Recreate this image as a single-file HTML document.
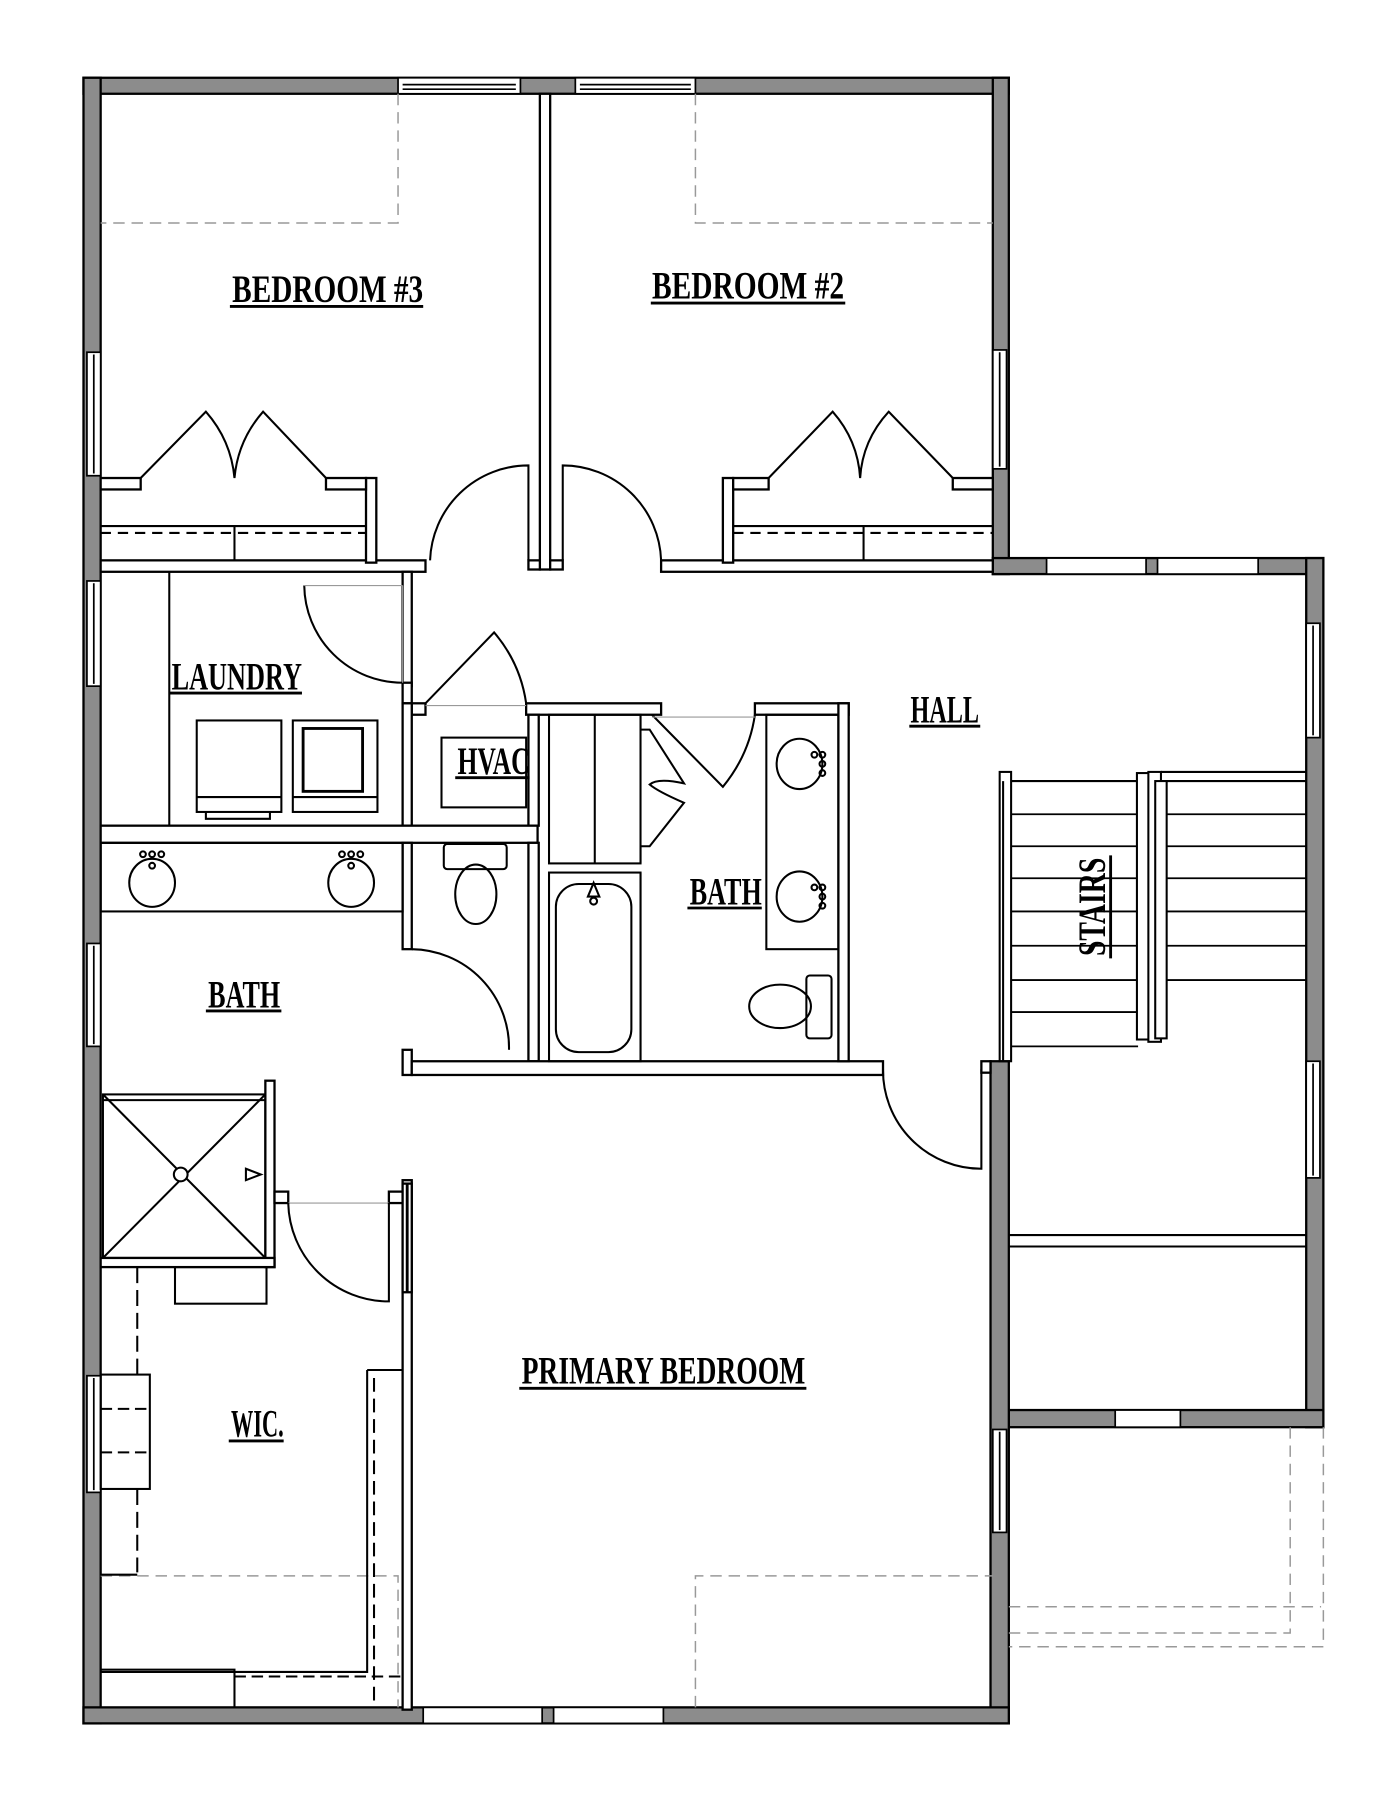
<!DOCTYPE html>
<html><head><meta charset="utf-8"><style>
html,body{margin:0;padding:0;background:#fff;}
svg{display:block;}
.lbl{font-family:"Liberation Serif",serif;font-weight:bold;font-size:34px;fill:#000;}
</style></head><body>
<svg width="1400" height="1800" viewBox="0 0 1224 1574" preserveAspectRatio="none" xmlns="http://www.w3.org/2000/svg">
<rect width="1224" height="1574" fill="#fff"/>
<g stroke="#000" stroke-width="2" fill="#8c8c8c">
<rect x="73" y="68" width="809" height="14"/>
<rect x="73" y="68" width="15" height="1439"/>
<rect x="868" y="68" width="14" height="434"/>
<rect x="868" y="488" width="289" height="14"/>
<rect x="1142" y="488" width="15" height="760"/>
<rect x="882" y="1233" width="275" height="15"/>
<rect x="866" y="928" width="16" height="579"/>
<rect x="73" y="1493" width="809" height="14"/>
</g>
<g stroke="#000" stroke-width="1.5" fill="#fff">
<rect x="348" y="68" width="107" height="14"/><line x1="352" y1="74" x2="451" y2="74"/><line x1="352" y1="78" x2="451" y2="78"/>
<rect x="503" y="68" width="105" height="14"/><line x1="507" y1="74" x2="604" y2="74"/><line x1="507" y1="78" x2="604" y2="78"/>
<rect x="915" y="488" width="87" height="14"/><rect x="1012" y="488" width="88" height="14"/>
<rect x="975" y="1233" width="57" height="15"/>
<rect x="370" y="1493" width="104" height="14"/><rect x="484" y="1493" width="96" height="14"/>
<rect x="76" y="308" width="12" height="108"/><line x1="82" y1="310" x2="82" y2="414"/>
<rect x="76" y="508" width="12" height="92"/><line x1="82" y1="510" x2="82" y2="598"/>
<rect x="76" y="825" width="12" height="90"/><line x1="82" y1="827" x2="82" y2="913"/>
<rect x="76" y="1203" width="12" height="102"/><line x1="82" y1="1205" x2="82" y2="1303"/>
<rect x="868" y="306" width="12" height="104"/><line x1="874" y1="308" x2="874" y2="408"/>
<rect x="1142" y="545" width="12" height="100"/><line x1="1148" y1="547" x2="1148" y2="643"/>
<rect x="1142" y="928" width="12" height="102"/><line x1="1148" y1="930" x2="1148" y2="1028"/>
<rect x="868" y="1250" width="12" height="90"/><line x1="874" y1="1252" x2="874" y2="1338"/>
</g>
<g stroke="#999" stroke-width="1.3" fill="none" stroke-dasharray="10,6">
<path d="M348 82 V195 H88"/>
<path d="M608 82 V195 H868"/>
<path d="M88 1378 H348 V1493"/>
<path d="M608 1493 V1378 H868"/>
<path d="M1157 1248 V1440 H882"/>
<path d="M1128 1248 V1428 H882"/>
<path d="M882 1405 H1155"/>
</g>
<g stroke="#000" stroke-width="2" fill="#fff">
<rect x="472" y="82" width="9" height="416"/>
<rect x="462" y="490" width="10" height="8"/><rect x="481" y="490" width="11" height="8"/>
<rect x="88" y="490" width="284" height="10"/>
<rect x="320" y="418" width="9" height="74"/>
<rect x="88" y="418" width="35" height="10"/><rect x="285" y="418" width="35" height="10"/>
<rect x="578" y="490" width="290" height="10"/>
<rect x="632" y="418" width="9" height="74"/>
<rect x="641" y="418" width="31" height="10"/><rect x="833" y="418" width="35" height="10"/>
<rect x="352" y="500" width="8" height="100"/>
<rect x="352" y="597" width="8" height="18"/>
<rect x="360" y="615" width="12" height="10"/>
<rect x="460" y="615" width="118" height="10"/>
<rect x="660" y="615" width="82" height="10"/>
<rect x="352" y="615" width="8" height="107"/>
<rect x="462" y="625" width="9" height="97"/>
<rect x="88" y="722" width="382" height="15"/>
<rect x="352" y="737" width="8" height="93"/>
<rect x="462" y="737" width="9" height="191"/>
<rect x="352" y="918" width="8" height="22"/>
<rect x="360" y="928" width="412" height="12"/>
<rect x="733" y="615" width="9" height="313"/>
<rect x="858" y="928" width="8" height="10"/>
<rect x="352" y="1032" width="8" height="463"/>
<rect x="232" y="945" width="8" height="163"/>
<rect x="88" y="1100" width="152" height="8"/>
<rect x="240" y="1042" width="12" height="10"/><rect x="340" y="1042" width="12" height="10"/>
</g>
<g stroke="#000" stroke-width="1.8" fill="none">
<line x1="88" y1="460" x2="320" y2="460"/><line x1="88" y1="466" x2="320" y2="466" stroke-dasharray="9,6"/>
<line x1="205" y1="460" x2="205" y2="490"/>
<line x1="641" y1="460" x2="868" y2="460"/><line x1="641" y1="466" x2="868" y2="466" stroke-dasharray="9,6"/>
<line x1="755" y1="460" x2="755" y2="490"/>
<path d="M123 418 L180 360 Q202 385 205 418 Q208 385 230 360 L285 418"/>
<path d="M672 418 L728 360 Q750 385 752 418 Q754 385 777 360 L833 418"/>
<path d="M376 490 A86 86 0 0 1 462 407 V490"/>
<path d="M578 490 A86 86 0 0 0 492 407 V490"/>
<line x1="148" y1="500" x2="148" y2="722"/>
<path d="M266 512 A86 86 0 0 0 352 597"/><line x1="266" y1="512" x2="352" y2="512" stroke="#999" stroke-width="1"/>
<line x1="352" y1="512" x2="352" y2="597" stroke="#999" stroke-width="1"/>
<rect x="172" y="630" width="74" height="80"/><line x1="172" y1="697" x2="246" y2="697"/><path d="M180 710 v6 h56 v-6"/>
<rect x="256" y="630" width="74" height="80"/><rect x="265" y="637" width="52" height="55" stroke-width="2.5"/><line x1="256" y1="697" x2="330" y2="697"/>
<rect x="386" y="645" width="74" height="61"/>
<path d="M372 615 L432 553 Q455 580 460 615"/>
<line x1="372" y1="617" x2="460" y2="617" stroke="#999" stroke-width="1"/>
<rect x="88" y="737" width="264" height="60"/>
<ellipse cx="133" cy="772" rx="20" ry="21"/><ellipse cx="307" cy="772" rx="20" ry="21"/>
<circle cx="133" cy="757" r="2.5"/><circle cx="125" cy="747" r="2.5"/><circle cx="133" cy="747" r="2.5"/><circle cx="141" cy="747" r="2.5"/>
<circle cx="307" cy="757" r="2.5"/><circle cx="299" cy="747" r="2.5"/><circle cx="307" cy="747" r="2.5"/><circle cx="315" cy="747" r="2.5"/>
<path d="M360 830 A86 86 0 0 1 445 918"/>
<rect x="388" y="738" width="55" height="22" rx="3"/><ellipse cx="416" cy="782" rx="18" ry="26"/>
<rect x="480" y="625" width="80" height="130"/><line x1="520" y1="625" x2="520" y2="755"/>
<path d="M560 625 V638 H568 L598 685 Q575 680 568 686 Q575 692 598 702 L568 740 H560 V755"/>
<rect x="480" y="763" width="80" height="165"/>
<rect x="486" y="773" width="66" height="147" rx="20"/>
<path d="M514 784 l5 -12 l5 12 z"/><circle cx="519" cy="788" r="3"/>
<line x1="560" y1="763" x2="560" y2="928"/>
<path d="M570 625 L632 688 Q655 660 660 625"/>
<line x1="570" y1="627" x2="660" y2="627" stroke="#999" stroke-width="1"/>
<rect x="670" y="625" width="63" height="205"/>
<ellipse cx="699" cy="668" rx="20" ry="22"/><ellipse cx="699" cy="784" rx="20" ry="22"/>
<circle cx="712" cy="660" r="2.5"/><circle cx="719" cy="660" r="2.5"/><circle cx="719" cy="668" r="2.5"/><circle cx="719" cy="676" r="2.5"/>
<circle cx="712" cy="776" r="2.5"/><circle cx="719" cy="776" r="2.5"/><circle cx="719" cy="784" r="2.5"/><circle cx="719" cy="792" r="2.5"/>
<rect x="705" y="853" width="22" height="55" rx="3"/><ellipse cx="682" cy="880" rx="27" ry="19"/>
<path d="M772 935 A86 86 0 0 0 858 1022 V935"/>
<rect x="90" y="957" width="142" height="143"/><line x1="90" y1="962" x2="232" y2="962"/>
<line x1="90" y1="957" x2="232" y2="1100"/><line x1="232" y1="957" x2="90" y2="1100"/>
<circle cx="158" cy="1027" r="6" fill="#fff"/>
<path d="M215 1022 l13 5 l-13 5 z"/>
<line x1="252" y1="1052" x2="340" y2="1052" stroke="#999" stroke-width="1"/>
<path d="M252 1052 A88 88 0 0 0 340 1138 V1052"/>
<rect x="352" y="1035" width="8" height="95" fill="#fff" stroke-width="2"/>
<line x1="356" y1="1035" x2="356" y2="1130" stroke-width="2.5"/>
<rect x="153" y="1108" width="80" height="32"/>
<rect x="88" y="1202" width="43" height="100"/>
<line x1="88" y1="1232" x2="131" y2="1232" stroke-dasharray="10,5"/><line x1="88" y1="1270" x2="131" y2="1270" stroke-dasharray="10,5"/>
<line x1="120" y1="1108" x2="120" y2="1202" stroke-dasharray="14,6"/><line x1="120" y1="1302" x2="120" y2="1375" stroke-dasharray="14,6"/>
<line x1="88" y1="1377" x2="120" y2="1377"/>
<path d="M88 1460 H205 V1493"/>
<path d="M321 1198 H352 M321 1198 V1462 H88"/>
<line x1="327" y1="1205" x2="327" y2="1493" stroke-dasharray="12,6"/>
<line x1="205" y1="1466" x2="352" y2="1466" stroke-dasharray="10,5"/>
<rect x="874" y="675" width="10" height="253"/>
<line x1="877" y1="683" x2="877" y2="928"/>
<line x1="884" y1="683" x2="1142" y2="683"/>
<line x1="1015" y1="675" x2="1142" y2="675"/>
<g stroke-width="1.6">
<line x1="884" y1="712" x2="995" y2="712"/><line x1="1020" y1="712" x2="1142" y2="712"/>
<line x1="884" y1="740" x2="995" y2="740"/><line x1="1020" y1="740" x2="1142" y2="740"/>
<line x1="884" y1="768" x2="995" y2="768"/><line x1="1020" y1="768" x2="1142" y2="768"/>
<line x1="884" y1="797" x2="995" y2="797"/><line x1="1020" y1="797" x2="1142" y2="797"/>
<line x1="884" y1="827" x2="995" y2="827"/><line x1="1020" y1="827" x2="1142" y2="827"/>
<line x1="884" y1="857" x2="995" y2="857"/><line x1="1020" y1="857" x2="1142" y2="857"/>
<line x1="884" y1="885" x2="995" y2="885"/>
<line x1="884" y1="915" x2="995" y2="915"/>
</g>
<rect x="994" y="676" width="12" height="233" fill="#fff"/>
<rect x="1004" y="675" width="11" height="236" fill="#fff"/>
<rect x="1010" y="683" width="10" height="225" fill="#fff"/>
<line x1="882" y1="1080" x2="1142" y2="1080"/><line x1="882" y1="1090" x2="1142" y2="1090"/>
</g>
<g class="lbl">
<text x="203" y="264" textLength="167" lengthAdjust="spacingAndGlyphs">BEDROOM #3</text>
<text x="570" y="261" textLength="168" lengthAdjust="spacingAndGlyphs">BEDROOM #2</text>
<text x="150" y="603" textLength="114" lengthAdjust="spacingAndGlyphs">LAUNDRY</text>
<text x="400" y="677" textLength="63" lengthAdjust="spacingAndGlyphs">HVAC</text>
<text x="796" y="632" textLength="60" lengthAdjust="spacingAndGlyphs">HALL</text>
<text x="603" y="791" textLength="63" lengthAdjust="spacingAndGlyphs">BATH</text>
<text x="182" y="881" textLength="63" lengthAdjust="spacingAndGlyphs">BATH</text>
<text x="202" y="1256" textLength="46" lengthAdjust="spacingAndGlyphs">WIC.</text>
<text x="456" y="1210" textLength="248" lengthAdjust="spacingAndGlyphs">PRIMARY  BEDROOM</text>
<text x="0" y="0" transform="translate(966 836) rotate(-90)" textLength="86" lengthAdjust="spacingAndGlyphs">STAIRS</text>
</g>
<g stroke="#000" stroke-width="2.5">
<line x1="201" y1="268" x2="370" y2="268"/>
<line x1="569" y1="265" x2="739" y2="265"/>
<line x1="148" y1="606" x2="264" y2="606"/>
<line x1="398" y1="680" x2="463" y2="680"/>
<line x1="795" y1="635" x2="857" y2="635"/>
<line x1="601" y1="794" x2="666" y2="794"/>
<line x1="180" y1="884" x2="246" y2="884"/>
<line x1="200" y1="1260" x2="248" y2="1260"/>
<line x1="454" y1="1214" x2="705" y2="1214"/>
<line x1="971" y1="748" x2="971" y2="838"/>
</g>
</svg>
</body></html>
